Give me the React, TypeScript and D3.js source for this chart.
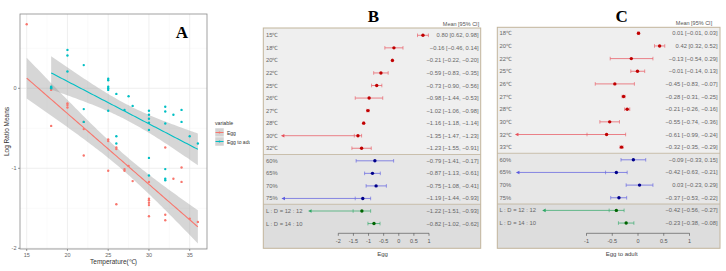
import React from "react";
import * as d3 from "d3";

// ---------- Panel A data ----------
const eggX = [15, 18, 18, 20, 20, 20, 22, 22, 22, 25, 25, 25, 26, 26, 26, 27, 27, 27.5, 28, 30, 30, 30, 30, 30, 30, 32, 32, 32, 33, 34, 34, 35, 36];
const eggY = [0.8, -0.47, -0.02, -0.19, -0.21, -0.24, -0.42, -0.84, -0.51, -0.64, -0.66, -1.03, -0.76, -0.74, -1.45, -1.03, -1.01, -0.97, -1.16, -1.17, -1.38, -1.4, -1.43, -1.46, -1.6, -0.74, -1.58, -1.65, -1.13, -0.99, -1.17, -1.63, -1.67];
const adultX = [18, 18, 18, 20, 20, 20, 22, 22, 22, 25, 25, 25, 25, 25, 25, 26, 26, 26, 27, 27.5, 28, 30, 30, 30, 30, 30, 30, 30, 32, 32, 32, 32, 32, 32, 33, 34, 34, 35, 36];
const adultY = [0.01, 0.0, 0.02, 0.48, 0.41, 0.21, 0.29, -0.26, -0.42, 0.12, 0.1, 0.02, 0.0, -0.02, -0.28, -0.07, -0.6, -0.69, -0.27, -0.1, -0.22, -0.28, -0.33, -0.38, -0.43, -0.52, -0.87, -1.09, -0.23, -0.29, -0.44, -1.01, -1.13, -1.15, -0.33, -0.27, -0.42, -0.6, -0.69];
const aXTicks = [15, 20, 25, 30, 35];
const aYTicks = [0, -1, -2];
const seriesNames = ["Egg", "Egg to adult"];
const seriesColors = ["#F8766D", "#00BFC4"];

// ---------- Panel B data (Egg) ----------
const bLabels = ["15℃", "18℃", "20℃", "22℃", "25℃", "26℃", "27℃", "28℃", "30℃", "32℃", "60%", "65%", "70%", "75%", "L : D = 12 : 12", "L : D = 14 : 10"];
const bMean = [0.8, -0.16, -0.21, -0.59, -0.73, -0.98, -1.02, -1.16, -1.35, -1.23, -0.79, -0.87, -0.75, -1.19, -1.22, -0.82];
const bLow = [0.62, -0.46, -0.22, -0.83, -0.9, -1.44, -1.06, -1.18, -1.47, -1.55, -1.41, -1.13, -1.08, -1.44, -1.51, -1.02];
const bHigh = [0.98, 0.14, -0.2, -0.35, -0.56, -0.53, -0.98, -1.14, -1.23, -0.91, -0.17, -0.61, -0.41, -0.93, -0.93, -0.62];
const bGroup = [0, 0, 0, 0, 0, 0, 0, 0, 0, 0, 1, 1, 1, 1, 2, 2];
const bArrow = [NaN, NaN, NaN, NaN, NaN, NaN, NaN, NaN, -3.9, NaN, NaN, NaN, NaN, -3.88, -3.0, NaN];
const bTicks = [-2, -1.5, -1, -0.5, 0, 0.5, 1];

// ---------- Panel C data (Egg to adult) ----------
const cLabels = ["18℃", "20℃", "22℃", "25℃", "26℃", "27℃", "28℃", "30℃", "32℃", "33℃", "60%", "65%", "70%", "75%", "L : D = 12 : 12", "L : D = 14 : 10"];
const cMean = [0.01, 0.42, -0.13, -0.01, -0.45, -0.28, -0.21, -0.55, -0.61, -0.32, -0.09, -0.42, 0.03, -0.37, -0.42, -0.23];
const cLow = [-0.01, 0.32, -0.54, -0.14, -0.83, -0.31, -0.26, -0.74, -0.99, -0.35, -0.33, -0.63, -0.23, -0.53, -0.56, -0.38];
const cHigh = [0.03, 0.52, 0.29, 0.13, -0.07, -0.25, -0.16, -0.36, -0.24, -0.29, 0.15, -0.21, 0.29, -0.22, -0.27, -0.08];
const cGroup = [0, 0, 0, 0, 0, 0, 0, 0, 0, 0, 1, 1, 1, 1, 2, 2];
const cArrow = [NaN, NaN, NaN, NaN, NaN, NaN, NaN, NaN, -2.39, NaN, NaN, -2.37, NaN, NaN, -1.86, NaN];
const cTicks = [-1, -0.5, 0, 0.5, 1];

const groupPoint = ["#C00000", "#00008B", "#006400"];
const groupLine = ["#E8505A", "#5A5AE0", "#2EA866"];
const groupBg = ["#EFEFEF", "#E7E7E7", "#DDDDDD"];
const FONT = "Liberation Sans, Arial, sans-serif";

function fitLm(xs: number[], ys: number[]) {
  const n = xs.length;
  const mx = d3.mean(xs)!;
  const my = d3.mean(ys)!;
  let sxx = 0, sxy = 0;
  xs.forEach((x, i) => { sxx += (x - mx) ** 2; sxy += (x - mx) * (ys[i] - my); });
  const b = sxy / sxx;
  const a = my - b * mx;
  let sse = 0;
  xs.forEach((x, i) => { sse += (ys[i] - (a + b * x)) ** 2; });
  const s = Math.sqrt(sse / (n - 2));
  const df = n - 2;
  const t = 1.96 + 2.4 / df + 3 / (df * df);
  const [x0, x1] = d3.extent(xs) as [number, number];
  const grid = d3.range(0, 81).map((k) => x0 + ((x1 - x0) * k) / 80);
  return grid.map((x) => {
    const yh = a + b * x;
    const se = s * Math.sqrt(1 / n + (x - mx) ** 2 / sxx);
    return { x, y: yh, lo: yh - t * se, hi: yh + t * se };
  });
}

function PanelA() {
  const L = 20, R = 207, T = 14, B = 249;
  const x = d3.scaleLinear([15, 35], [26.7, 189.7]);
  const y = d3.scaleLinear([0, -2], [88.3, 248.3]);
  const series = [
    { xs: eggX, ys: eggY },
    { xs: adultX, ys: adultY },
  ];
  const fits = series.map((s) => fitLm(s.xs, s.ys));
  const area = d3.area<any>().x((d) => x(d.x)).y0((d) => y(d.lo)).y1((d) => y(d.hi));
  const line = d3.line<any>().x((d) => x(d.x)).y((d) => y(d.y));
  const minorX = [12.5, 17.5, 22.5, 27.5, 32.5, 37.5].filter((v) => x(v) > L && x(v) < R);
  const minorY = [0.5, -0.5, -1.5];
  return (
    <g>
      <defs>
        <clipPath id="clipA"><rect x={L} y={T} width={R - L} height={B - T} /></clipPath>
        <clipPath id="clipLeg"><rect x={0} y={0} width={250} height={271} /></clipPath>
      </defs>
      <rect x={L} y={T} width={R - L} height={B - T} fill="#fff" />
      {minorX.map((v) => <line key={"mx" + v} x1={x(v)} x2={x(v)} y1={T} y2={B} stroke="#F4F4F4" strokeWidth={0.5} />)}
      {minorY.map((v) => <line key={"my" + v} x1={L} x2={R} y1={y(v)} y2={y(v)} stroke="#F4F4F4" strokeWidth={0.5} />)}
      {aXTicks.map((v) => <line key={"gx" + v} x1={x(v)} x2={x(v)} y1={T} y2={B} stroke="#EBEBEB" strokeWidth={0.8} />)}
      {aYTicks.map((v) => <line key={"gy" + v} x1={L} x2={R} y1={y(v)} y2={y(v)} stroke="#EBEBEB" strokeWidth={0.8} />)}
      <g clipPath="url(#clipA)">
        {fits.map((f, i) => <path key={"band" + i} d={area(f)!} fill="#999" fillOpacity={0.4} />)}
        {series.map((s, i) =>
          s.xs.map((xv, j) => (
            <circle key={"p" + i + "-" + j} cx={x(xv)} cy={y(s.ys[j])} r={1.2} fill={seriesColors[i]} />
          ))
        )}
        {fits.map((f, i) => <path key={"ln" + i} d={line(f)!} fill="none" stroke={seriesColors[i]} strokeWidth={1.1} />)}
      </g>
      <rect x={L} y={T} width={R - L} height={B - T} fill="none" stroke="#8A8A8A" strokeWidth={0.8} />
      {aXTicks.map((v) => (
        <g key={"tx" + v}>
          <line x1={x(v)} x2={x(v)} y1={B} y2={B + 2} stroke="#555" strokeWidth={0.6} />
          <text x={x(v)} y={B + 7.5} fontSize={5.5} fill="#666" textAnchor="middle" fontFamily={FONT}>{v}</text>
        </g>
      ))}
      {aYTicks.map((v) => (
        <g key={"ty" + v}>
          <line x1={L - 2} x2={L} y1={y(v)} y2={y(v)} stroke="#555" strokeWidth={0.6} />
          <text x={L - 3.5} y={y(v) + 2} fontSize={5.5} fill="#666" textAnchor="end" fontFamily={FONT}>{v}</text>
        </g>
      ))}
      <text x={(L + R) / 2} y={263.5} fontSize={6.5} fill="#333" textAnchor="middle" fontFamily={FONT}>Temperature(℃)</text>
      <text transform={`translate(9,${(T + B) / 2}) rotate(-90)`} fontSize={6.5} fill="#333" textAnchor="middle" fontFamily={FONT}>Log Ratio Means</text>
      <text x={182} y={38} fontSize={17} fontWeight="bold" textAnchor="middle" fontFamily="Liberation Serif, Times New Roman, serif">A</text>
      <g clipPath="url(#clipLeg)">
        <text x={215} y={125} fontSize={5.2} fill="#333" fontFamily={FONT}>variable</text>
        {seriesNames.map((nm, i) => (
          <g key={"lg" + i}>
            <rect x={215} y={128 + i * 9} width={9} height={9} fill="#D3D3D3" stroke="#fff" strokeWidth={0.5} />
            <line x1={215.5} x2={223.5} y1={132.5 + i * 9} y2={132.5 + i * 9} stroke={seriesColors[i]} strokeWidth={1} />
            <circle cx={219.5} cy={132.5 + i * 9} r={1} fill={seriesColors[i]} />
            <text x={227} y={134.5 + i * 9} fontSize={5} fill="#333" fontFamily={FONT}>{nm}</text>
          </g>
        ))}
      </g>
    </g>
  );
}

type ForestProps = {
  labels: string[]; mean: number[]; low: number[]; high: number[]; group: number[]; arrow: number[];
  ticks: number[]; domain: [number, number]; range: [number, number];
  box: { l: number; r: number; t: number; b: number }; seps: number[];
  row0: number; rowStep: number; labelX: number; valueX: number; headerX: number; headerY: number;
  axisY: number; title: string; titleX: number; letter: string; letterX: number;
};

function Forest(p: ForestProps) {
  const x = d3.scaleLinear(p.domain, p.range);
  const rowY = (i: number) => p.row0 + p.rowStep * i;
  const bounds = [p.box.t, ...p.seps, p.box.b];
  const fmt = d3.format(".2f");
  return (
    <g fontFamily={FONT}>
      {bounds.slice(0, -1).map((t, i) => (
        <rect key={"bg" + i} x={p.box.l} y={t} width={p.box.r - p.box.l} height={bounds[i + 1] - t} fill={groupBg[i]} />
      ))}
      {p.seps.map((s, i) => <line key={"sep" + i} x1={p.box.l} x2={p.box.r} y1={s} y2={s} stroke="#BFB29A" strokeWidth={0.8} />)}
      <rect x={p.box.l} y={p.box.t} width={p.box.r - p.box.l} height={p.box.b - p.box.t} fill="none" stroke="#C2B59C" strokeWidth={1} />
      <text x={p.headerX} y={p.headerY} fontSize={5.5} fill="#555" textAnchor="middle">Mean [95% CI]</text>
      <text x={p.letterX} y={21.5} fontSize={17} fontWeight="bold" textAnchor="middle" fontFamily="Liberation Serif, Times New Roman, serif">{p.letter}</text>
      {p.labels.map((lab, i) => {
        const yy = rowY(i);
        const g = p.group[i];
        const lc = groupLine[g];
        return (
          <g key={"row" + i}>
            <text x={p.labelX} y={yy + 2} fontSize={5.8} fill="#666">{lab}</text>
            <text x={p.valueX} y={yy + 2} fontSize={5.8} fill="#666" textAnchor="end">
              {`${fmt(p.mean[i])} [${fmt(p.low[i])}, ${fmt(p.high[i])}]`}
            </text>
            {!isNaN(p.arrow[i]) && (
              <g>
                <line x1={x(p.arrow[i]) + 2} x2={x(p.low[i])} y1={yy} y2={yy} stroke={lc} strokeWidth={0.7} />
                <path d={`M${x(p.arrow[i])},${yy} l3.5,-1.8 l0,3.6 z`} fill={lc} />
              </g>
            )}
            <line x1={x(p.low[i])} x2={x(p.high[i])} y1={yy} y2={yy} stroke={lc} strokeWidth={0.7} />
            <line x1={x(p.low[i])} x2={x(p.low[i])} y1={yy - 1.8} y2={yy + 1.8} stroke={lc} strokeWidth={0.6} />
            <line x1={x(p.high[i])} x2={x(p.high[i])} y1={yy - 1.8} y2={yy + 1.8} stroke={lc} strokeWidth={0.6} />
            <circle cx={x(p.mean[i])} cy={yy} r={1.7} fill={groupPoint[g]} />
          </g>
        );
      })}
      <line x1={x(p.domain[0])} x2={x(p.domain[1])} y1={p.axisY} y2={p.axisY} stroke="#444" strokeWidth={0.6} />
      {p.ticks.map((t) => (
        <g key={"t" + t}>
          <line x1={x(t)} x2={x(t)} y1={p.axisY} y2={p.axisY + 2.5} stroke="#444" strokeWidth={0.6} />
          <text x={x(t)} y={p.axisY + 9.5} fontSize={5.5} fill="#555" textAnchor="middle">{t}</text>
        </g>
      ))}
      <text x={p.titleX} y={256} fontSize={6} fill="#444" textAnchor="middle">{p.title}</text>
    </g>
  );
}

export default function App() {
  return (
    <svg width={726} height={271} style={{ position: "absolute", left: 0, top: 0, background: "#fff" }}>
      <rect width={726} height={271} fill="#fff" />
      <PanelA />
      <Forest
        labels={bLabels} mean={bMean} low={bLow} high={bHigh} group={bGroup} arrow={bArrow}
        ticks={bTicks} domain={[-2, 1]} range={[338.3, 429]}
        box={{ l: 263.3, r: 480.7, t: 28, b: 248.3 }} seps={[154.5, 204.3]}
        row0={35.3} rowStep={12.55} labelX={266} valueX={478.5} headerX={461} headerY={26}
        axisY={233.3} title="Egg" titleX={382.5} letter="B" letterX={373.5}
      />
      <Forest
        labels={cLabels} mean={cMean} low={cLow} high={cHigh} group={cGroup} arrow={cArrow}
        ticks={cTicks} domain={[-1, 1]} range={[586.5, 689.5]}
        box={{ l: 497.3, r: 720, t: 27.3, b: 248.3 }} seps={[153.3, 204]}
        row0={33.3} rowStep={12.65} labelX={499.5} valueX={717.5} headerX={694} headerY={24.5}
        axisY={233.3} title="Egg to adult" titleX={621.7} letter="C" letterX={621.7}
      />
    </svg>
  );
}
